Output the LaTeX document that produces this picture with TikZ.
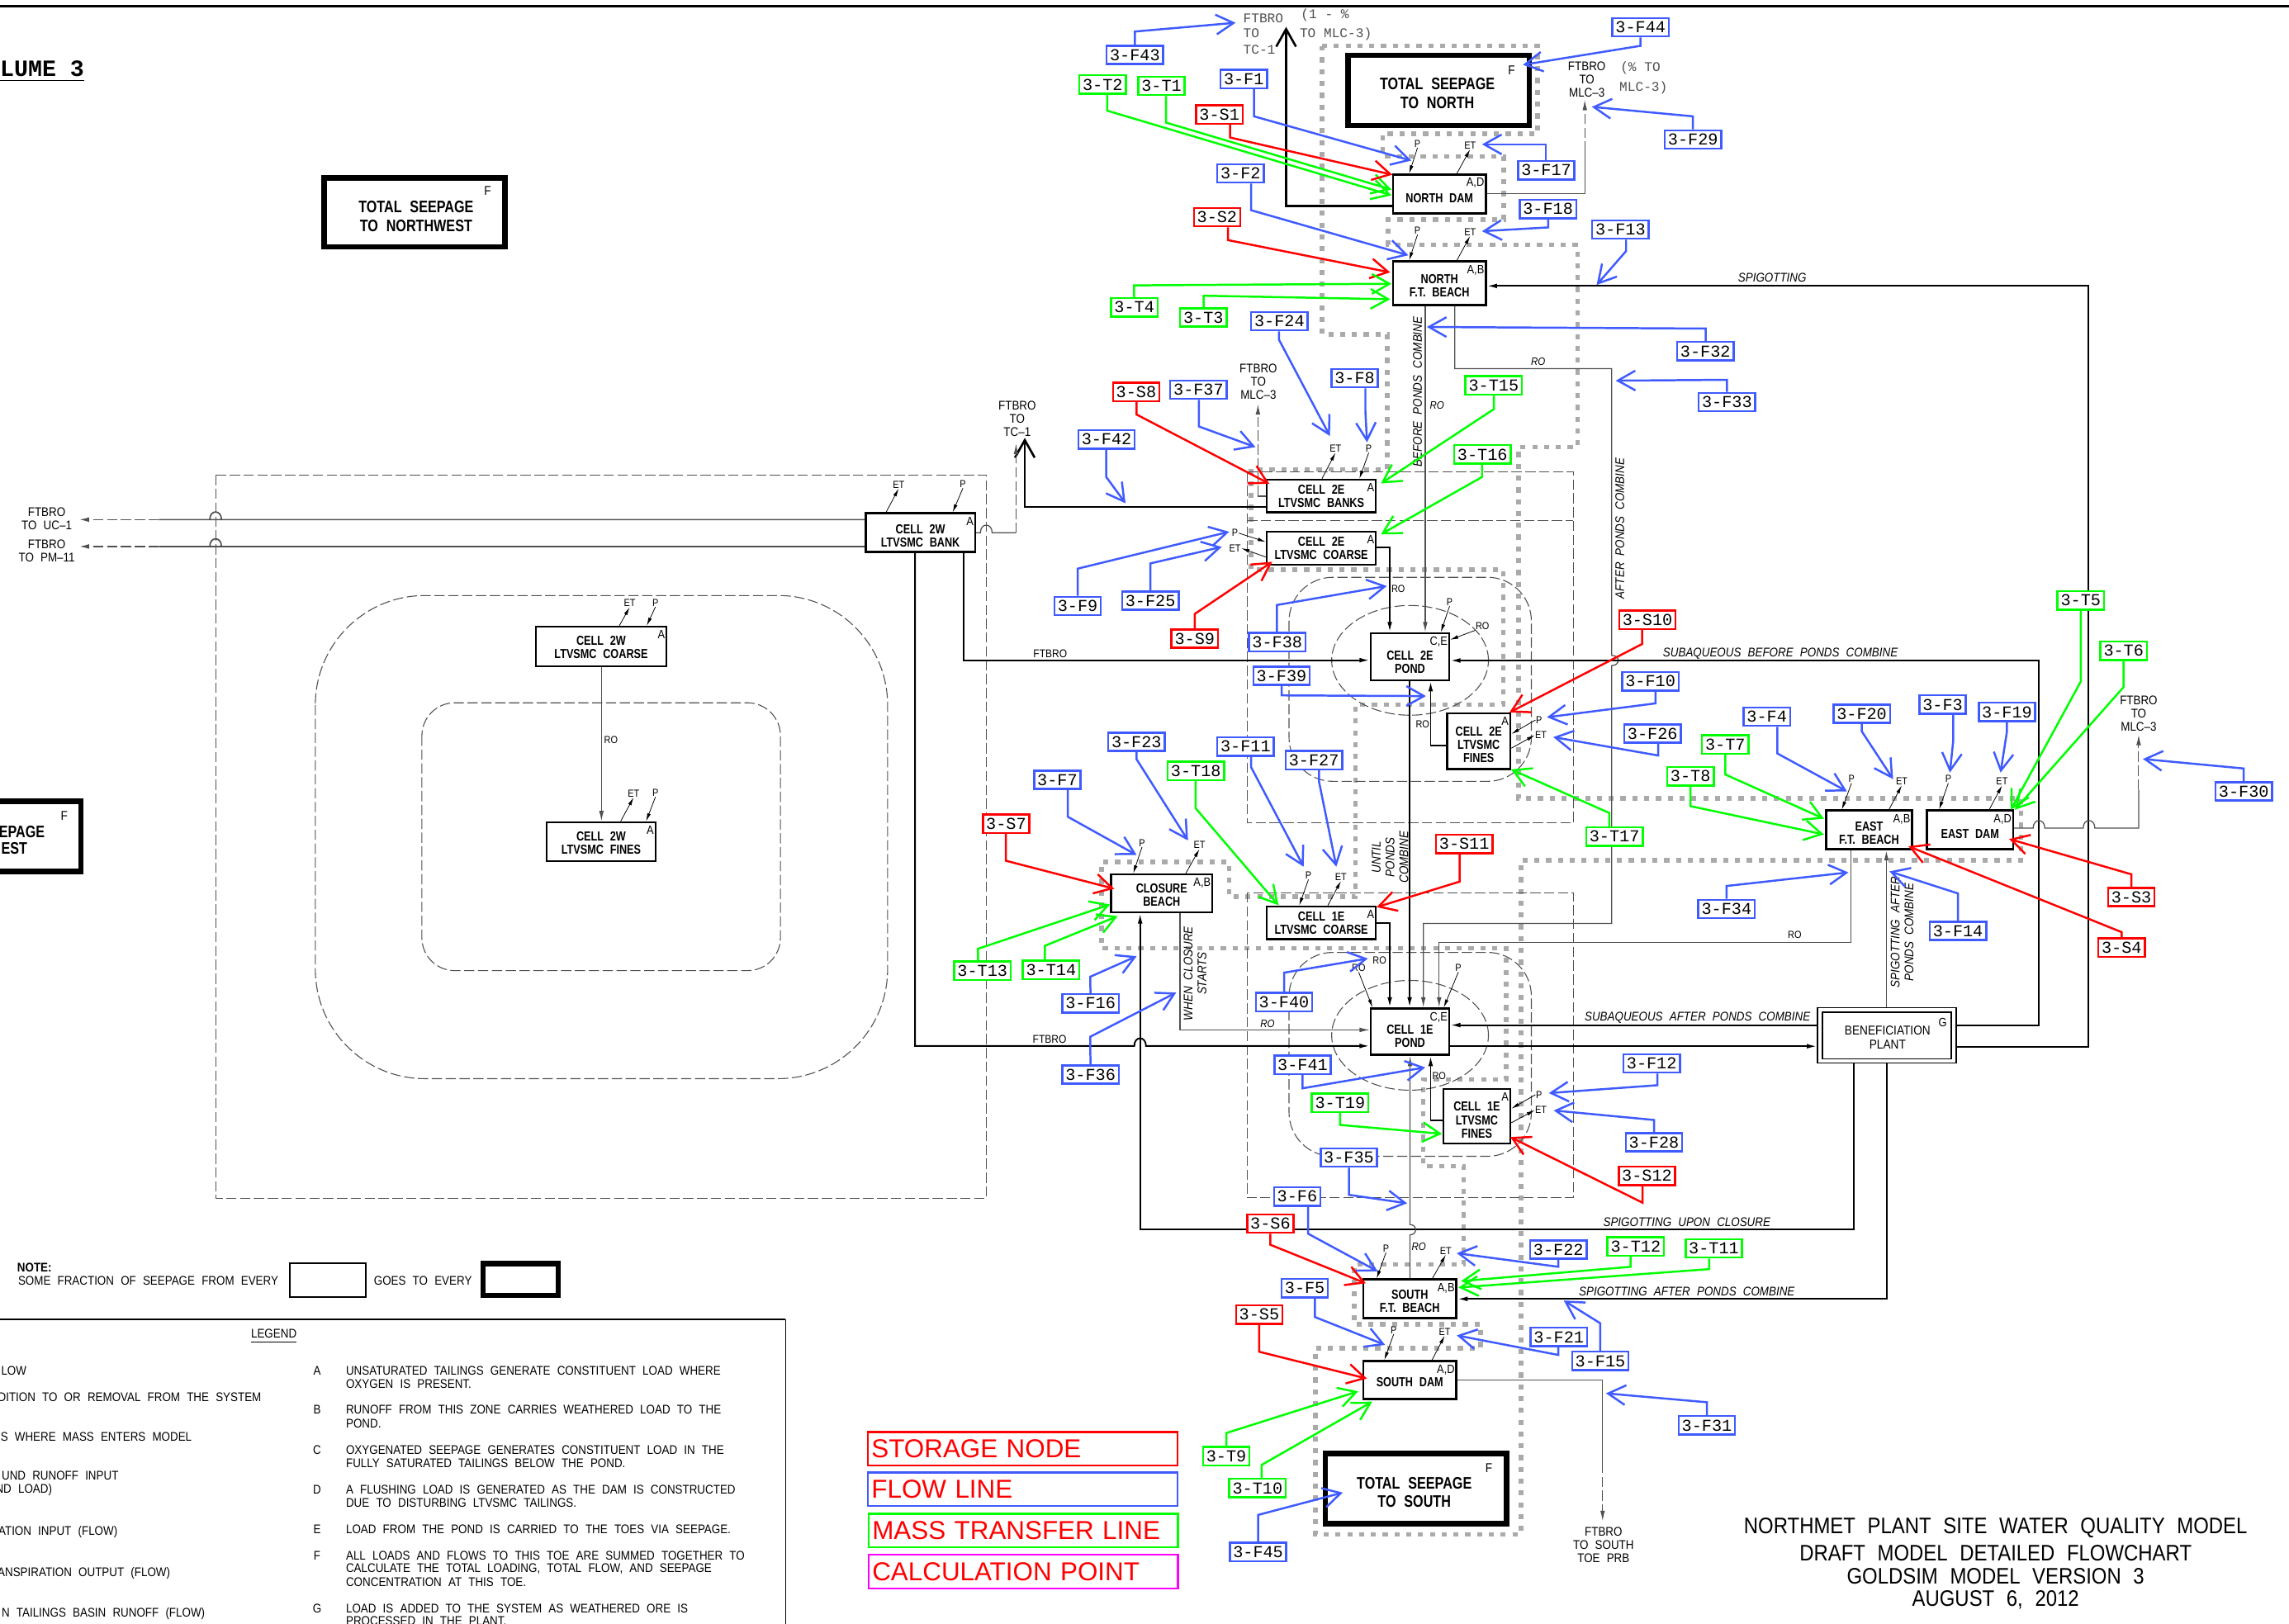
\documentclass[tikz,border=0pt]{standalone}
\usepackage{fontspec}
\usetikzlibrary{arrows.meta,calc,shapes.geometric}
\setmainfont{Liberation Sans}[FakeStretch=0.88,WordSpace=2.2]
\newfontfamily\plainf{Liberation Sans}
\newfontfamily\monof{Liberation Mono}
\newfontfamily\cadb{Liberation Sans}[FakeStretch=0.8,WordSpace=2.2]
\definecolor{fblue}{HTML}{3F5BFF}
\definecolor{fgreen}{HTML}{00FF00}
\definecolor{fred}{HTML}{FF0000}
\definecolor{fmag}{HTML}{FF00FF}
\definecolor{dotgray}{HTML}{AAAAAA}
\definecolor{thingray}{HTML}{505050}
\tikzset{
 lab/.style={draw,fill=white,line width=.8pt,font=\monof\fontsize{6.5}{7}\selectfont,inner xsep=.044cm,inner ysep=0,minimum height=.252cm,text=black},
 lF/.style={lab,draw=fblue},
 lT/.style={lab,draw=fgreen},
 lS/.style={lab,draw=fred},
 barb/.style={-{Straight Barb[length=2.4mm,width=2.7mm]}},
 cF/.style={draw=fblue,line width=.8pt,barb},
 cT/.style={draw=fgreen,line width=.8pt,barb},
 cS/.style={draw=fred,line width=.8pt,barb},
 boxs/.style={draw=black,line width=.8pt,fill=white,inner sep=0},
 boxt/.style={font=\cadb\bfseries\fontsize{5.1}{5.2}\selectfont,align=center,inner sep=0},
 tagt/.style={font=\fontsize{4.7}{5}\selectfont,inner sep=0,anchor=north east},
 sm/.style={font=\fontsize{4}{4.5}\selectfont,inner sep=0},
 smar/.style={line width=.25pt,-{Latex[length=1.1mm,width=.5mm]}},
 tips/.style={-{Latex[length=1.4mm,width=.65mm]}},
 thk/.style={draw=black,line width=.6pt},
 thkk/.style={draw=black,line width=.85pt},
 thn/.style={draw=thingray,line width=.4pt},
 dsh/.style={draw=thingray,line width=.35pt,dash pattern=on 4pt off 1.4pt},
 zone/.style={draw=thingray,line width=.35pt,dash pattern=on 4pt off 1.4pt},
 gd/.style={draw=dotgray,line width=1.8pt,dash pattern=on 2pt off 2.6pt},
 note/.style={font=\fontsize{4.9}{5.1}\selectfont,inner sep=0,align=center},
 ital/.style={font=\itshape\fontsize{4.9}{5.4}\selectfont,inner sep=0,align=center},
 leg/.style={font=\fontsize{4.9}{5.2}\selectfont,inner sep=0},
 mono/.style={font=\monof\fontsize{5.2}{6}\selectfont,inner sep=0,anchor=west,text=thingray},
 swatch/.style={draw,fill=white,line width=.8pt,inner sep=0,minimum width=4.24cm,minimum height=.46cm,text width=4.14cm,font=\plainf\fontsize{10.1}{10.2}\selectfont,text=fred,align=left},
 title/.style={font=\fontsize{8.75}{9}\selectfont,inner sep=0},
 seep/.style={boxt,font=\cadb\bfseries\fontsize{6.5}{7.2}\selectfont},
}
\newcommand\Lab[3]{\node[#1] (#2) at (#3) {3-#2};}
\newcommand\Con[5]{\coordinate (tip#2) at (#5); \draw[#1] (#3) #4 -- (tip#2);}
\newcommand\Bx[8]{%
 \pgfmathsetmacro\bW{(#4-#2)*0.02}\pgfmathsetmacro\bH{(#5-#3)*0.02}%
 \node[boxs,minimum width=\bW cm,minimum height=\bH cm] (#1) at ({(#2+#4)/2},{(#3+#5)/2}) {};
 \node[boxt] (#1txt) at ($(#1.center)+(0,#8)$) {#6};
 \node[tagt] (#1tag) at ($(#1.north east)+(-1.5,3)$) {#7};
}
\newcommand\Sep[8]{%
 \pgfmathsetmacro\bW{(#4-#2)*0.02}\pgfmathsetmacro\bH{(#5-#3)*0.02}%
 \node[boxs,line width=2.1pt,minimum width=\bW cm,minimum height=\bH cm] (#1) at ({(#2+#4)/2},{(#3+#5)/2}) {};
 \node[seep] (#1txt) at (#7) {#6};
 \node[sm,font=\fontsize{5}{5}\selectfont] (#1tag) at (#8) {F};
}
% small flow into a box: text,name,pos,anchor,target
\newcommand\SmI[5]{\node[sm] (#2) at (#3) {#1}; \draw[smar] (#2.#4) -- (#5);}
% small flow out of a box: text,name,pos,anchor,source
\newcommand\SmO[5]{\node[sm] (#2) at (#3) {#1}; \draw[smar] (#5) -- (#2.#4);}
\newcommand\hb[2]{-- ({#1-4},#2) .. controls ({#1-4},{#2-7}) and ({#1+4},{#2-7}) .. ({#1+4},#2)}
\begin{document}
\begin{tikzpicture}[x=0.02cm,y=-0.02cm]
\useasboundingbox (0,0) rectangle (1568,1112.1);
\clip (0,0) rectangle (1568,1112.1);
\fill[white] (0,0) rectangle (1568,1112.1);
\draw[black,line width=.85pt] (0,4.3) -- (1568,4.3);
\node[font=\monof\bfseries\fontsize{9.1}{10}\selectfont,inner sep=0,anchor=east] (vol) at (58,49) {\underline{LUME 3}};

% ---- wide dotted zone outline
\draw[gd] (905.6,31.4) -- (1053.3,31.4) -- (1053.3,91.6) -- (947.1,91.6) -- (947.1,107.1) -- (1030.2,107.1) -- (1030.2,150.4) -- (950.9,150.4) -- (950.9,167.7) -- (1080.7,167.7) -- (1080.7,306.3) -- (1040.3,306.3) -- (1040.3,547) -- (1384.4,547) -- (1384.4,589.4) -- (1041.8,589.4) -- (1041.8,1051.2) -- (901,1051.2) -- (901,923.6) -- (1014.1,923.6) -- (1014.1,907.3) -- (927.5,907.3) -- (927.5,866.4) -- (1002.6,866.4) -- (1002.6,799) -- (975,799) -- (975,739.6) -- (1031.7,739.6) -- (1031.7,649.7) -- (754.6,649.7) -- (754.6,590.5) -- (842,590.5) -- (842,614.3) -- (928.6,614.3) -- (928.6,482.7) -- (1029.7,482.7) -- (1029.7,390.3) -- (857,390.3) -- (857,321.5) -- (950.3,321.5) -- (950.3,229) -- (905.6,229) -- cycle;

% ---- dashed zones
\draw[zone] (147.7,325.4) rectangle (675.6,821);
\draw[zone,rounded corners=1.5cm] (216,408) rectangle (608,739);
\draw[zone,rounded corners=.45cm] (289,481.5) rectangle (534.6,665);
\draw[zone] (854.2,323.2) rectangle (1077.6,563.9);
\draw[zone] (854.2,356.7) -- (1077.6,356.7);
\draw[zone] (854.2,611.5) rectangle (1077.6,820.7);
\draw[zone,rounded corners=.6cm] (883,395.5) rectangle (1049,535.3);
\draw[zone,rounded corners=.6cm] (883,652.5) rectangle (1049,792.2);
\node[ellipse,zone,inner sep=0,minimum width=2.148cm,minimum height=1.504cm] (ring2E) at (965.9,452.4) {};
\node[ellipse,zone,inner sep=0,minimum width=2.148cm,minimum height=1.504cm] (ring1E) at (965.9,709.3) {};

% ---- boxes
\Bx{ND}{954.3}{119.5}{1017.8}{146.1}{NORTH DAM}{A,D}{3.1}
\Bx{NB}{954.3}{179}{1017.8}{209}{NORTH\\F.T. BEACH}{A,B}{1.7}
\Bx{BK}{867.7}{328.6}{942.5}{350.9}{CELL 2E\\LTVSMC BANKS}{A}{.2}
\Bx{CO}{867.7}{364.3}{942.5}{386.8}{CELL 2E\\LTVSMC COARSE}{A}{.3}
\Bx{PE}{939}{433.8}{992.7}{466}{CELL 2E\\POND}{C,E}{3.6}
\Bx{FE}{991.3}{488.8}{1034.6}{526.9}{CELL 2E\\LTVSMC\\FINES}{A}{2.5}
\Bx{CL}{761}{599}{830.5}{625}{CLOSURE\\BEACH}{A,B}{1.4}
\Bx{CC}{867.7}{621}{942.5}{643.5}{CELL 1E\\LTVSMC COARSE}{A}{.3}
\Bx{PO}{939}{690.9}{992.7}{722.7}{CELL 1E\\POND}{C,E}{2.9}
\Bx{FO}{988.7}{746}{1034.6}{783.3}{CELL 1E\\LTVSMC\\FINES}{A}{2.7}
\Bx{SB}{933.8}{876.6}{997.6}{903}{SOUTH\\F.T. BEACH}{A,B}{1.6}
\Bx{SD}{933.8}{932.4}{997.6}{958.6}{SOUTH DAM}{A,D}{1.2}
\Bx{EB}{1251}{555.3}{1309.7}{581.8}{EAST\\F.T. BEACH}{A,B}{2}
\Bx{ED}{1320}{555.3}{1379}{581.8}{EAST DAM}{A,D}{2.5}
\Bx{WB}{593}{351.6}{668}{378}{CELL 2W\\LTVSMC BANK}{A}{2.4}
\Bx{WC}{367}{429.3}{456.6}{456.6}{CELL 2W\\LTVSMC COARSE}{A}{.6}
\Bx{WF}{374.6}{563.3}{449}{590}{CELL 2W\\LTVSMC FINES}{A}{.8}
% beneficiation plant
\node[boxs,line width=.4pt,minimum width=1.9cm,minimum height=.76cm] (BP) at (1292.5,709.4) {};
\node[boxs,line width=.5pt,minimum width=1.76cm,minimum height=.64cm] (BPin) at (BP.center) {};
\node[boxt,font=\fontsize{5}{5.2}\selectfont] (BPt) at (1293,710.8) {BENEFICIATION\\PLANT};
\node[tagt] (BPtag) at (1334,697) {G};
% seepage boxes
\Sep{TN}{923.5}{37.9}{1047.5}{86.1}{TOTAL SEEPAGE\\TO NORTH}{984.6,64}{1035.4,48}
\Sep{TNW}{222}{122}{346}{169}{TOTAL SEEPAGE\\TO NORTHWEST}{285,148.3}{334,131}
\Sep{TS}{907.9}{995.7}{1032}{1044}{TOTAL SEEPAGE\\TO SOUTH}{968.8,1022.3}{1019.9,1005.9}
\node[boxs,line width=2.1pt,minimum width=2.5cm,minimum height=.96cm] (TW) at (-7,573) {};
\node[seep,anchor=east] (TWa) at (31,570) {EPAGE};
\node[seep,anchor=west] (TWb) at (0.5,581) {EST};
\node[sm,font=\fontsize{5}{5}\selectfont] (TWtag) at (44,559) {F};

% ---- black / gray flow lines
\coordinate (aTC1) at (881,18.4);
\draw[thkk,barb] (ND.west |- 0,141) -- (881,141) -- (aTC1);
\node[mono] (m1) at (851.3,12.3) {FTBRO};
\node[mono] (m2) at (851.3,23) {TO};
\node[mono] (m3) at (851.3,34) {TC-1};
\node[mono] (m4) at (890.8,10.4) {(1 - \%};
\node[mono] (m5) at (890,23.4) {TO MLC-3)};
\coordinate (bNM) at (1085.6,104); \coordinate (aNM) at (1085.6,68.5);
\draw[thn] (ND.east |- 0,132.7) -- (1085.6,132.7) -- (bNM);
\draw[dsh,tips] (bNM) -- (aNM);
\node[note] (n1) at (1087,54.5) {FTBRO\\TO\\MLC--3};
\node[mono] (m6) at (1109.6,46.7) {(\% TO};
\node[mono] (m7) at (1109,60) {MLC-3)};
\coordinate (bBK) at (861.7,339.9); \coordinate (aBK) at (861.7,277);
\draw[thn] (BK.west |- bBK) -- (bBK);
\draw[dsh,tips] (bBK) -- (aBK);
\node[note] (n2) at (862,261.5) {FTBRO\\TO\\MLC--3};
\coordinate (aTC2) at (702,300);
\draw[thkk,barb] (BK.west |- 0,347.4) -- (702,347.4) -- (aTC2);
\node[note] (n3) at (696.8,287) {FTBRO\\TO\\TC--1};
\coordinate (bWB) at (696,365); \coordinate (aWB) at (696,304);
\draw[thn] (WB.east |- bWB) \hb{675.6}{365} -- (bWB);
\draw[dsh,tips] (bWB) -- (aWB);
% 2W bank to left
\coordinate (aUC) at (54,356); \coordinate (bUC) at (108.8,356);
\coordinate (aPM) at (54,374.4); \coordinate (bPM) at (108.8,374.4);
\draw[thn,line width=.55pt] (WB.west |- bUC) \hb{147.7}{356} -- (bUC);
\draw[thn,line width=.55pt] (WB.west |- bPM) \hb{147.7}{374.4} -- (bPM);
\draw[dsh,line width=.55pt,tips] (bUC) -- (aUC);
\draw[dsh,line width=.55pt,tips] (bPM) -- (aPM);
\node[note] (n4) at (32,355.4) {FTBRO\\TO UC--1};
\node[note] (n5) at (32,377.5) {FTBRO\\TO PM--11};
% FTBRO runs
\draw[thk,tips] (626.8,0 |- WB.south) -- (626.8,716.6) \hb{781}{716.6} -- (PO.west |- 0,716.6);
\node[sm,font=\fontsize{4.4}{5}\selectfont] (ft1) at (719,712.3) {FTBRO};
\draw[thk,tips] (660,0 |- WB.south) -- (660,452.3) -- (PE.west |- 0,452.3);
\node[sm,font=\fontsize{4.4}{5}\selectfont] (ft2) at (719.4,448) {FTBRO};
% 2W coarse to fines
\draw[thn,tips] (WC.south -| 412,0) -- (WF.north -| 412,0);
\node[sm] (ro1) at (418.5,506.8) {RO};
% 2E coarse
\draw[thk,tips] (CO.east |- 0,375.1) -- (952,375.1) -- (952,0 |- PE.north);
\node[sm] (ro2) at (957.8,403.7) {RO};
\draw[thn,tips] (976.3,0 |- NB.south) -- (976.3,0 |- PE.north);
\node[ital,rotate=90] (t1) at (971,268.4) {BEFORE PONDS COMBINE};
\node[ital,font=\itshape\fontsize{4.2}{5}\selectfont] (ro3) at (984.3,277.5) {RO};
\draw[thn,tips] (996.5,0 |- NB.south) -- (996.5,252.6) -- (1104,252.6) -- (1104,449) .. controls (1110,449) and (1110,456) .. (1104,456) -- (1104,632.7) -- (975,632.7) -- (975,0 |- PO.north);
\node[ital,font=\itshape\fontsize{4.2}{5}\selectfont] (ro4) at (1053.6,247.8) {RO};
\node[ital,rotate=90] (t2) at (1109.6,362) {AFTER PONDS COMBINE};
% pond 2E
\SmI{P}{p2E}{993,412.4}{south}{987,0 |- PE.north}
\SmI{RO}{r2E}{1015.5,429}{south west}{PE.east |- 0,438.3}
\draw[thk,tips] (965.6,0 |- PE.south) -- (965.6,0 |- PO.north);
\node[ital,rotate=90] (t3) at (952.3,587.3) {UNTIL\\PONDS\\COMBINE};
\draw[thk,tips] (FE.west |- 0,510.6) -- (980,510.6) -- (980,0 |- PE.south);
\node[sm] (ro5) at (974.5,496) {RO};
\SmI{P}{pFE}{1054.2,493.3}{west}{FE.east |- 0,502.8}
\SmO{ET}{eFE}{1055.6,503.7}{west}{FE.east |- 0,512.6}
\SmI{P}{pCO}{846,365.2}{east}{CO.west |- 0,371.2}
\SmO{ET}{eCO}{846,375.6}{east}{CO.west |- 0,381.6}
% subaqueous / spigotting
\draw[thk,tips] (BP.east |- 0,702.3) -- (1396.7,702.3) -- (1396.7,452.5) -- (PE.east |- 0,452.5);
\node[ital] (t4) at (1219.6,447.5) {SUBAQUEOUS BEFORE PONDS COMBINE};
\draw[thk,tips] (BP.east |- 0,717.4) -- (1430.7,717.4) -- (1430.7,195.9) -- (NB.east |- 0,195.9);
\node[ital] (t5) at (1214,190) {SPIGOTTING};
\draw[thk,tips] (BP.west |- 0,702.3) -- (PO.east |- 0,702.3);
\node[ital] (t6) at (1162.8,697.5) {SUBAQUEOUS AFTER PONDS COMBINE};
\draw[thk,tips] (PO.east |- 0,716.8) -- (BP.west |- 0,716.8);
\draw[thn,tips] (1268,0 |- EB.south) -- (1268,645.5) -- (985.8,645.5) -- (985.8,0 |- PO.north);
\node[sm] (ro6) at (1229.4,640.6) {RO};
\draw[thn,line width=.5pt,tips] (1292.2,0 |- BP.north) -- (1292.2,0 |- EB.south);
\node[ital,rotate=90] (t7) at (1303,638.6) {SPIGOTTING AFTER\\PONDS COMBINE};
\draw[thk,tips] (1269.8,0 |- BP.south) -- (1269.8,842.4) -- (781,842.4) -- (781,0 |- CL.south);
\node[ital] (t8) at (1155.5,837.2) {SPIGOTTING UPON CLOSURE};
\draw[thk,tips] (1292.6,0 |- BP.south) -- (1292.6,889.9) -- (SB.east |- 0,889.9);
\node[ital] (t9) at (1155.5,884.8) {SPIGOTTING AFTER PONDS COMBINE};
\draw[thn,tips] (965.9,0 |- SB.north) -- (965.9,846) .. controls (971,846) and (971,839) .. (965.9,839) -- (965.9,0 |- PO.south);
\node[ital,font=\itshape\fontsize{4.2}{5}\selectfont] (ro7) at (971.9,854.3) {RO};
\draw[thk,tips] (FO.west |- 0,767.7) -- (980,767.7) -- (980,0 |- PO.south);
\node[sm] (ro8) at (985.8,737.4) {RO};
\SmI{RO}{r1E}{930.7,663.2}{south}{940.2,0 |- PO.north}
\SmI{P}{p1E}{999,663.2}{south}{989,0 |- PO.north}
\draw[thk,tips] (CC.east |- 0,632.3) -- (952,632.3) -- (952,0 |- PO.north);
\node[sm] (ro9) at (945,658) {RO};
\draw[thn,tips] (808.3,0 |- CL.south) -- (808.3,705.6) -- (PO.west |- 0,705.6);
\node[ital,rotate=90] (t10) at (818.7,667) {WHEN CLOSURE\\STARTS};
\node[ital,font=\itshape\fontsize{4.2}{5}\selectfont] (ro10) at (868.3,701.3) {RO};
% south dam out
\coordinate (bSD) at (1097.8,1002.2); \coordinate (aSD) at (1097.8,1042);
\draw[thn] (SD.east |- 0,945.4) -- (1097.8,945.4) -- (bSD);
\draw[dsh,tips] (bSD) -- (aSD);
\node[note] (n6) at (1098.4,1058.5) {FTBRO\\TO SOUTH\\TOE PRB};
% east dam out
\coordinate (bED) at (1465,541); \coordinate (aED) at (1465,503.5);
\draw[thn] (ED.east |- 0,567.4) \hb{1396.7}{567.4} \hb{1431}{567.4} -- (1465,567.4) -- (bED);
\draw[dsh,tips] (bED) -- (aED);
\node[note] (n7) at (1465,489) {FTBRO\\TO\\MLC--3};
% small P / ET
\SmI{P}{pND}{971,98.5}{south}{965.3,0 |- ND.north}
\SmO{ET}{eND}{1007,99.6}{south}{998,0 |- ND.north}
\SmI{P}{pNB}{971,158}{south}{965.3,0 |- NB.north}
\SmO{ET}{eNB}{1007,159}{south}{998,0 |- NB.north}
\SmO{ET}{eBK}{914.8,307.4}{south}{905.6,0 |- BK.north}
\SmI{P}{pBK}{937.6,307.4}{south}{931.2,0 |- BK.north}
\SmO{ET}{eWB}{615.6,332}{south}{607,0 |- WB.north}
\SmI{P}{pWB}{659.6,331.7}{south}{652.6,0 |- WB.north}
\SmO{ET}{eWC}{431.3,413.3}{south}{424.3,0 |- WC.north}
\SmI{P}{pWC}{449,413}{south}{443,0 |- WC.north}
\SmO{ET}{eWF}{434,543.6}{south}{425.2,0 |- WF.north}
\SmI{P}{pWF}{449,543.2}{south}{442.6,0 |- WF.north}
\SmI{P}{pCL}{782.3,577.5}{south}{776.3,0 |- CL.north}
\SmO{ET}{eCL}{821.6,579}{south}{812.3,0 |- CL.north}
\SmI{P}{pCC}{896.3,599.8}{south}{890,0 |- CC.north}
\SmO{ET}{eCC}{918.5,600.9}{south}{909.6,0 |- CC.north}
\SmI{P}{pFO}{1054.2,750}{west}{FO.east |- 0,759.5}
\SmO{ET}{eFO}{1055.6,760.6}{west}{FO.east |- 0,769.2}
\SmI{P}{pSB}{949.4,855.4}{south}{943,0 |- SB.north}
\SmO{ET}{eSB}{990.4,856.9}{south}{981.2,0 |- SB.north}
\SmI{P}{pSD}{954.7,911.3}{south}{948.3,0 |- SD.north}
\SmO{ET}{eSD}{989.6,912.4}{south}{981,0 |- SD.north}
\SmI{P}{pEB}{1268.3,533.8}{south}{1261.7,0 |- EB.north}
\SmO{ET}{eEB}{1302.7,535.4}{south}{1294,0 |- EB.north}
\SmI{P}{pED}{1334.6,533.8}{south}{1328.3,0 |- ED.north}
\SmO{ET}{eED}{1371.4,535.4}{south}{1362.7,0 |- ED.north}

% ---- labels
\Lab{lF}{F43}{777.4,37.6} \Lab{lT}{T2}{755.3,57.9} \Lab{lT}{T1}{795.6,58.8} \Lab{lF}{F1}{852,54.2}
\Lab{lS}{S1}{835.3,78.5} \Lab{lF}{F44}{1123.8,18.7} \Lab{lF}{F17}{1059.2,116.7} \Lab{lF}{F18}{1060.4,143.2}
\Lab{lF}{F13}{1110,157.2} \Lab{lF}{F2}{849.8,118.8} \Lab{lS}{S2}{833.7,148.8} \Lab{lT}{T4}{777,210.5}
\Lab{lT}{T3}{824.3,217.5} \Lab{lF}{F24}{876.4,220} \Lab{lF}{F8}{928,259} \Lab{lT}{T15}{1023.2,264}
\Lab{lT}{T16}{1015.5,311.3} \Lab{lS}{S8}{778.3,268.5} \Lab{lF}{F37}{821,267} \Lab{lF}{F42}{758,301}
\Lab{lF}{F9}{738.2,415.2} \Lab{lF}{F25}{788,411.5} \Lab{lS}{S9}{818.4,437.5} \Lab{lF}{F38}{874.9,440}
\Lab{lF}{F39}{877.9,463} \Lab{lS}{S10}{1128.5,424.7} \Lab{lF}{F10}{1130.5,466.8} \Lab{lF}{F26}{1132,502.6}
\Lab{lF}{F23}{778.5,508.2} \Lab{lF}{F11}{853.2,511.5} \Lab{lF}{F27}{900,520.8} \Lab{lT}{T18}{819.2,528.1}
\Lab{lF}{F7}{724.3,534.3} \Lab{lT}{T17}{1105.9,573.1} \Lab{lS}{S11}{1003,578.2} \Lab{lS}{S7}{689.2,564.4}
\Lab{lT}{T14}{720,664.5} \Lab{lT}{T13}{673,665} \Lab{lF}{F16}{747,687.4} \Lab{lF}{F36}{747,736.2}
\Lab{lF}{F40}{879.6,686.5} \Lab{lF}{F41}{892.3,729.5} \Lab{lT}{T19}{918,755.6} \Lab{lF}{F35}{924,793}
\Lab{lF}{F6}{888.6,819.8} \Lab{lS}{S6}{870.2,838.3} \Lab{lF}{F12}{1131.4,728.6} \Lab{lF}{F28}{1133,782.6}
\Lab{lS}{S12}{1128.2,805.6} \Lab{lF}{F22}{1067.5,856.1} \Lab{lT}{T12}{1120.5,854} \Lab{lT}{T11}{1174,855.2}
\Lab{lF}{F5}{893.8,882.6} \Lab{lS}{S5}{862.6,900.6} \Lab{lF}{F21}{1067.8,916} \Lab{lF}{F15}{1096.2,932.4}
\Lab{lF}{F31}{1169.2,976.5} \Lab{lT}{T9}{840,997.7} \Lab{lT}{T10}{861.4,1019.5} \Lab{lF}{F45}{861.8,1063.2}
\Lab{lF}{F29}{1159.7,95.6} \Lab{lF}{F32}{1168.2,240.6} \Lab{lF}{F33}{1183,275.5}
\Lab{lT}{T5}{1425.3,411.3} \Lab{lT}{T6}{1454.7,445.8} \Lab{lF}{F4}{1210.3,491} \Lab{lF}{F20}{1275.3,489}
\Lab{lF}{F3}{1330.7,482.7} \Lab{lF}{F19}{1374.8,487.8} \Lab{lT}{T7}{1181.8,510} \Lab{lT}{T8}{1158,531.8}
\Lab{lF}{F30}{1537,542.2} \Lab{lF}{F34}{1182.7,622.8} \Lab{lF}{F14}{1341.2,637.8} \Lab{lS}{S3}{1460,614.6}
\Lab{lS}{S4}{1453.3,649.2}

% ---- coloured connectors
\Con{cF}{F43}{F43.north}{-- (777.4,21.6)}{846.4,15.6}
\Con{cF}{F44}{1123.7,0 |- F44.south}{-- (1123.7,31.4)}{1043.2,44.4}
\Con{cT}{T2}{758.4,0 |- T2.south}{-- (758.4,75.8)}{953.2,133.8}
\Con{cT}{T1}{798.8,0 |- T1.south}{-- (798.8,84)}{953.2,129.9}
\Con{cF}{F1}{859,0 |- F1.south}{-- (859,79.7)}{966.7,110}
\Con{cS}{S1}{842.6,0 |- S1.south}{-- (842.6,94.2)}{953.8,119.7}
\Con{cF}{F17}{1059,0 |- F17.north}{-- (1059,98.9)}{1015.2,98.9}
\Con{cF}{F2}{857,0 |- F2.south}{-- (857,144)}{964.7,174.9}
\Con{cS}{S2}{841.2,0 |- S2.south}{-- (841.2,164.5)}{952.3,186.6}
\Con{cF}{F18}{1060.5,0 |- F18.south}{-- (1060.5,155.8)}{1015.2,158.4}
\Con{cF}{F13}{1113.9,0 |- F13.south}{-- (1113.9,172)}{1093.7,195.2}
\Con{cT}{T4}{776.8,0 |- T4.north}{-- (776.8,195.5)}{953.2,194.4}
\Con{cT}{T3}{824.5,0 |- T3.north}{-- (824.5,202.6)}{952.3,205}
\Con{cF}{F24}{876.1,0 |- F24.south}{-- (876.1,232.7)}{911,298.7}
\Con{cF}{F8}{935.3,0 |- F8.south}{-- (935.3,281.4)}{936.4,303}
\Con{cT}{T15}{1023.3,0 |- T15.south}{-- (1023.3,280.3)}{946,331.2}
\Con{cT}{T16}{1015.2,0 |- T16.south}{-- (1015.2,326.8)}{946,366}
\Con{cS}{S8}{778.6,0 |- S8.south}{-- (778.6,284)}{869.5,331.4}
\Con{cF}{F37}{821.3,0 |- F37.south}{-- (821.3,292.2)}{860,306.3}
\Con{cF}{F42}{757.8,0 |- F42.south}{-- (757.8,326.8)}{771,344.8}
\Con{cF}{F29}{1159.6,0 |- F29.north}{-- (1159.6,79.7)}{1090.4,73.2}
\Con{cF}{F32}{1168.4,0 |- F32.north}{-- (1168.4,225.1)}{977.4,224}
\Con{cF}{F33}{1183,0 |- F33.north}{-- (1183,260.2)}{1106.8,260.8}
\Con{cF}{F9}{F9.north}{-- (738.2,389.6)}{842,364.3}
\Con{cF}{F25}{F25.north}{-- (788,386)}{836.9,374.7}
\Con{cS}{S9}{S9.north}{-- (818.4,420.6)}{871.5,384.9}
\Con{cF}{F38}{874.7,0 |- F38.north}{-- (874.7,414.5)}{950,401.5}
\Con{cF}{F39}{878,0 |- F39.south}{-- (878,476.4)}{976.8,476.9}
\Con{cS}{S10}{1124.9,0 |- S10.south}{-- (1124.9,441.2)}{1034,488.1}
\Con{cF}{F10}{1134,0 |- F10.south}{-- (1134,481.9)}{1059.7,491.4}
\Con{cF}{F26}{1135.9,0 |- F26.south}{-- (1135.9,517.6)}{1064,505}
\Con{cT}{T17}{1102.4,0 |- T17.north}{-- (1102.4,557)}{1035.1,527.1}
\Con{cF}{F23}{778.6,0 |- F23.south}{-- (778.6,520.2)}{813.8,575.8}
\Con{cF}{F11}{857,0 |- F11.south}{-- (857,525.6)}{893,593.8}
\Con{cF}{F27}{903.5,0 |- F27.south}{-- (903.5,535.3)}{915.4,593.8}
\Con{cT}{T18}{819,0 |- T18.south}{-- (819,553.7)}{875.8,620.2}
\Con{cF}{F7}{731.5,0 |- F7.south}{-- (731.5,559.6)}{778.6,585.8}
\Con{cS}{S7}{689,0 |- S7.south}{-- (689,589.7)}{763.3,608.9}
\Con{cS}{S11}{999.9,0 |- S11.south}{-- (999.9,604)}{943,621.5}
\Con{cT}{T13}{670,0 |- T13.north}{-- (670,650)}{760.4,619.7}
\Con{cT}{T14}{715.7,0 |- T14.north}{-- (715.7,648)}{765.6,627.7}
\Con{cF}{F16}{F16.north}{-- (746.8,669.2)}{778.6,655.1}
\Con{cF}{F36}{F36.north}{-- (746.8,710.3)}{805.7,680}
\Con{cF}{F40}{F40.north}{-- (879.6,666.4)}{937,656.7}
\Con{cF}{F41}{F41.south}{-- (892.3,745.6)}{976.3,731.3}
\Con{cT}{T19}{T19.south}{-- (918,770.7)}{987.8,776.8}
\Con{cF}{F35}{F35.south}{-- (924,818.6)}{963.9,824.4}
\Con{cF}{F6}{896,0 |- F6.south}{-- (896,845.2)}{943.7,871}
\Con{cS}{S6}{S6.south}{-- (870.2,852.8)}{935.6,879.2}
\Con{cF}{F5}{900.7,0 |- F5.south}{-- (900.7,902.3)}{948.8,921.4}
\Con{cS}{S5}{S5.south}{-- (862.6,926.1)}{936.4,944.5}
\Con{cF}{F22}{F22.south}{-- (1067.5,867.9)}{997.9,858.6}
\Con{cT}{T12}{1117,0 |- T12.south}{-- (1117,867.9)}{1000.8,877.7}
\Con{cT}{T11}{1170.8,0 |- T11.south}{-- (1170.8,869.5)}{999.1,882.1}
\Con{cF}{F21}{1067.5,0 |- F21.south}{-- (1067.5,928.3)}{997.9,914.9}
\Con{cF}{F15}{F15.north}{-- (1096.2,906.6)}{1071.2,891}
\Con{cF}{F12}{1135.3,0 |- F12.south}{-- (1135.3,743.5)}{1061,748.9}
\Con{cF}{F28}{F28.north}{-- (1133,767.3)}{1064.3,760.8}
\Con{cS}{S12}{1125.2,0 |- S12.south}{-- (1125.2,824)}{1034.6,779}
\Con{cF}{F31}{F31.north}{-- (1169.2,960.7)}{1100.1,954.6}
\Con{cT}{T9}{T9.north}{-- (840,981.8)}{930.4,953.2}
\Con{cT}{T10}{864.3,0 |- T10.north}{-- (864.3,1003.6)}{940,960.3}
\Con{cF}{F45}{F45.north}{-- (861.8,1037.9)}{919.8,1022.6}
\Con{cT}{T5}{T5.south}{-- (1425.3,467)}{1377.4,554.8}
\Con{cT}{T6}{T6.south}{-- (1454.7,470.7)}{1380.2,554.8}
\Con{cF}{F4}{1217.5,0 |- F4.south}{-- (1217.5,516.2)}{1265.2,542.2}
\Con{cF}{F20}{F20.south}{-- (1275.3,501)}{1296.8,533.8}
\Con{cF}{F3}{1338,0 |- F3.south}{-- (1338,507.3)}{1335.7,529.3}
\Con{cF}{F19}{F19.south}{-- (1374.8,501)}{1370.4,529.3}
\Con{cT}{T7}{T7.south}{-- (1181.8,530.6)}{1249.4,560.9}
\Con{cT}{T8}{T8.south}{-- (1158,552.3)}{1249.4,571.7}
\Con{cF}{F30}{F30.north}{-- (1537,526.5)}{1467.9,520}
\Con{cF}{F34}{F34.north}{-- (1182.7,607)}{1266.2,597.7}
\Con{cF}{F14}{F14.north}{-- (1341.2,612.1)}{1294.3,597}
\Con{cS}{S3}{S3.north}{-- (1460,599)}{1376.3,574.8}
\Con{cS}{S4}{S4.north}{-- (1453.3,638.6)}{1307.3,579.8}

% ---- note and legend
\node[leg,font=\bfseries\fontsize{4.9}{5}\selectfont,anchor=west] (nt) at (11.5,868.2) {NOTE:};
\node[leg,anchor=east] (nt2) at (191,877.4) {SOME FRACTION OF SEEPAGE FROM EVERY};
\node[boxs,line width=.7pt,minimum width=1.04cm,minimum height=.46cm] (nbx1) at (224.4,876.9) {};
\node[leg,anchor=west] (nt3) at (255.8,877.4) {GOES TO EVERY};
\node[boxs,line width=2pt,minimum width=1.03cm,minimum height=.44cm] (nbx2) at (356.8,876.7) {};
\draw[black,line width=.7pt] (-5,904) -- (538.2,904);
\draw[black,line width=.5pt] (538.2,904) -- (538.2,1120);
\node[leg] (lgh) at (187.6,915.7) {\underline{LEGEND}};
\node[leg,anchor=west] (lLa) at (0.5,938.9) {LOW};
\foreach \tx/\xr/\yy/\nm in {DITION TO OR REMOVAL FROM THE SYSTEM/179.3/957.2/b,S WHERE MASS ENTERS MODEL/131.7/984.1/c,UND RUNOFF INPUT/81.5/1010.9/d,ND LOAD)/36/1021/e,ATION INPUT (FLOW)/80.8/1049.4/f,ANSPIRATION OUTPUT (FLOW)/116.9/1077.7/g,N TAILINGS BASIN RUNOFF (FLOW)/140.7/1105.8/h}
  \node[leg,anchor=east] (lL\nm) at (\xr,\yy) {\tx};
\foreach \tx/\yy/\nm in {A/938.9/a,B/965.9/b,C/993.2/c,D/1020.3/d,E/1047.5/e,F/1065.6/f,G/1101.8/g}
  \node[leg] (lK\nm) at (217.2,\yy) {\tx};
\foreach \tx/\yy/\nm in {UNSATURATED TAILINGS GENERATE CONSTITUENT LOAD WHERE/938.9/a,OXYGEN IS PRESENT./948/b,RUNOFF FROM THIS ZONE CARRIES WEATHERED LOAD TO THE/965.9/c,POND./975.1/d,OXYGENATED SEEPAGE GENERATES CONSTITUENT LOAD IN THE/993.2/e,FULLY SATURATED TAILINGS BELOW THE POND./1002.2/f,A FLUSHING LOAD IS GENERATED AS THE DAM IS CONSTRUCTED/1020.3/g,DUE TO DISTURBING LTVSMC TAILINGS./1029.4/h,LOAD FROM THE POND IS CARRIED TO THE TOES VIA SEEPAGE./1047.5/i,ALL LOADS AND FLOWS TO THIS TOE ARE SUMMED TOGETHER TO/1065.6/j,{CALCULATE THE TOTAL LOADING, TOTAL FLOW, AND SEEPAGE}/1074.6/k,CONCENTRATION AT THIS TOE./1083.7/l,LOAD IS ADDED TO THE SYSTEM AS WEATHERED ORE IS/1101.8/m,PROCESSED IN THE PLANT./1110.5/n}
  \node[leg,anchor=west] (lR\nm) at (236.7,\yy) {\tx};

% ---- colour key
\node[swatch,draw=fred] (k1) at (700.5,992.5) {STORAGE NODE};
\node[swatch,draw=fblue] (k2) at (700.5,1020.2) {FLOW LINE};
\node[swatch,draw=fgreen] (k3) at (701,1048.5) {MASS TRANSFER LINE};
\node[swatch,draw=fmag] (k4) at (701,1076.7) {CALCULATION POINT};
% ---- title
\node[title] (ti1) at (1367,1047) {NORTHMET PLANT SITE WATER QUALITY MODEL};
\node[title] (ti2) at (1367,1064) {DRAFT MODEL DETAILED FLOWCHART};
\node[title] (ti3) at (1367,1080) {GOLDSIM MODEL VERSION 3};
\node[title] (ti4) at (1367,1096) {AUGUST 6, 2012};
\end{tikzpicture}
\end{document}
